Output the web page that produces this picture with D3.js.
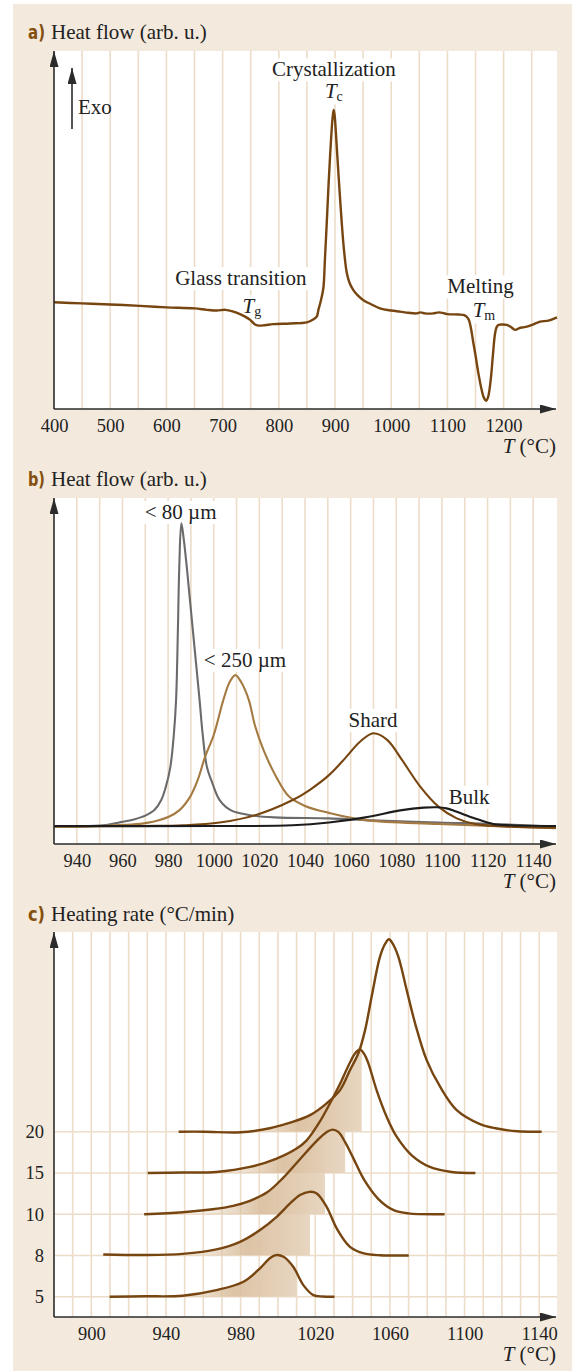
<!DOCTYPE html>
<html lang="en">
<head>
<meta charset="UTF-8">
<title>DSC curves</title>
<script src="https://d3js.org/d3.v7.min.js"></script>
<style>
  body { margin: 0; background: #fff; }
  svg { display: block; }
  .grid line { stroke: #ecdcc8; stroke-width: 1.6; }
</style>
</head>
<body>
<svg id="chart" width="572" height="1371"></svg>
<script>
// ---------- data ----------
// a) DSC trace of the glass: [T (°C), heat flow (arb. u.)]
const aTicks = [400, 500, 600, 700, 800, 900, 1000, 1100, 1200];
const aTrace = [
  [400, 29.8], [450, 29.5], [500, 29.2], [553, 28.8], [600, 28.4], [650, 28.1],
  [672, 27.7], [690, 27.5], [705, 27.7], [719, 27.2], [731, 26.5], [740, 25.8],
  [749, 24.9], [757, 23.7], [764, 23.3], [775, 23.4], [790, 23.7], [820, 23.9],
  [850, 24.2], [862, 25.1], [867.5, 25.8], [870.5, 27.7], [875, 30.4], [879.3, 33.8],
  [882, 41.6], [885.3, 52.0], [888.5, 62.6], [891.2, 70.5], [894, 77.9], [896, 81.8],
  [897.7, 83.5], [899.5, 81.8], [901.5, 77.4], [904.2, 70.5], [908, 61.2], [912, 52.0],
  [916, 44.4], [921, 38.0], [926, 35.2], [932.7, 33.2], [940, 31.8], [950.5, 30.4],
  [965, 29.2], [980, 28.1], [1000, 27.5], [1015.8, 27.2], [1030, 26.9], [1045, 26.7],
  [1052, 27.0], [1060, 26.7], [1075, 26.7], [1085, 27.0], [1100, 26.5], [1120, 26.4],
  [1130, 26.2], [1137.3, 25.2], [1142, 22.4], [1146, 18.6], [1150, 15.0],
  [1155, 10.1], [1161, 5.3], [1165, 3.1], [1168.8, 2.3], [1172.5, 3.4], [1177, 8.1],
  [1181, 15.1], [1184.8, 21.1], [1188, 23.0], [1191, 23.5], [1198, 23.6], [1205.6, 23.5],
  [1213, 22.9], [1220.5, 22.1], [1228, 22.6], [1234, 22.8], [1241.3, 23.0], [1252, 23.6],
  [1265, 24.4], [1280, 24.7], [1295, 25.6]
];

// b) crystallization peaks for different grain sizes: [T, heat flow]
const bTicks = [940, 960, 980, 1000, 1020, 1040, 1060, 1080, 1100, 1120, 1140];
const bFine = [
  [930, 5.1], [950, 5.3], [960, 6.4], [965, 7.1], [970, 8.2], [974, 9.8], [977, 12.7],
  [979, 16.5], [981, 22.3], [982.5, 31.5], [983.5, 41.6], [984.3, 62], [984.9, 80],
  [985.8, 92.7], [986.7, 89], [988.2, 80], [990.7, 62.8], [993.8, 41.6], [995.1, 32.1],
  [997, 22.3], [999.4, 17.6], [1002.6, 12.7], [1007.4, 9.8], [1015.4, 8.4], [1026.6, 7.7],
  [1050.5, 7.4], [1066.5, 6.9], [1098.5, 6.2], [1122.5, 5.8], [1150, 5.0]
];
const bMedium = [
  [930, 5.1], [950, 5.2], [970.7, 6.1], [980.3, 7.9], [985, 9.8], [989.7, 13.7], [993, 18.5],
  [996.2, 25.2], [1000, 31.5], [1004.2, 41.6], [1007, 46.8], [1009.5, 48.8], [1012, 46.8],
  [1015.4, 41.6], [1018, 34.4], [1021.8, 27.2], [1027, 19.9], [1033, 13.7], [1040, 11.0],
  [1050.5, 9.0], [1066.5, 6.9], [1098.5, 5.8], [1150, 4.6]
];
const bShard = [
  [930, 5.1], [970, 5.2], [986.6, 5.4], [1002.6, 6.2], [1018.6, 8.4], [1034.6, 12.7],
  [1042, 15.6], [1050.5, 19.9], [1058, 25.1], [1064, 29.5], [1070, 32.0], [1076, 30.1],
  [1082.5, 24.3], [1090.5, 16.6], [1098.5, 10.8], [1106.5, 7.4], [1114.5, 5.8],
  [1130.4, 5.0], [1150, 4.7]
];
const bBulk = [
  [930, 5.2], [1000, 5.2], [1034.6, 5.4], [1050.5, 6.2], [1066.5, 7.7], [1082.5, 9.8],
  [1092, 10.5], [1097.7, 10.6], [1102, 10.3], [1106.5, 9.3], [1114.5, 7.4], [1122.5, 5.8],
  [1130.4, 5.4], [1150, 5.2]
];

// c) peaks at different heating rates: [T, signal above baseline]
const cTicks = [900, 940, 980, 1020, 1060, 1100, 1140];
const cRates = ["5", "8", "10", "15", "20"];
const cCut = { "5": 1010, "8": 1017.2, "10": 1025.2, "15": 1036, "20": 1044.9 };
const cCurves = {
  "5": [[909.8, 0], [929, 0.2], [949, 0.5], [967, 3.3], [981.5, 7.5], [990.4, 14.2], [996, 19.5],
        [999, 20.8], [1003, 20], [1008.2, 15], [1013.6, 5.8], [1019, 0.8], [1024, 0.1], [1030.3, 0]],
  "8": [[906.4, 0.5], [930, 0.2], [949, 0.8], [967, 3], [979.7, 6.8], [990.4, 12.7], [999.3, 19.3],
        [1006.5, 26], [1011.8, 30.2], [1016.8, 31.8], [1020.8, 31], [1026.1, 24.3], [1031.5, 13.5],
        [1038.6, 4.3], [1046, 1], [1055, 0.1], [1070.1, 0]],
  "10": [[928.3, 0], [949, 1], [965, 2.5], [976, 4.2], [985, 6.7], [994, 10.8], [1002.9, 18.3],
         [1011.8, 27.5], [1020.8, 36.7], [1026, 41], [1029.2, 42.3], [1032.5, 41], [1036, 36],
         [1040.5, 27.8], [1046.3, 17], [1054.1, 7.3], [1062, 2], [1069.8, 0.4], [1089.3, 0]],
  "15": [[930.2, 0], [949, 0.2], [967, 0.5], [985, 3], [999.3, 7.2], [1010, 12.2], [1015.4, 16.3],
         [1022, 25], [1028, 35], [1034, 46], [1039, 56], [1041.5, 60], [1044, 61.7], [1046.5, 59],
         [1048.5, 54.7], [1052.9, 41.3], [1058.3, 28], [1063.7, 18], [1071.7, 8.8], [1081.4, 3],
         [1093.1, 0.5], [1105.8, 0]],
  "20": [[946.8, 0], [960.5, 0], [980, -0.3], [995.6, 1.7], [1006.5, 4.5], [1017.2, 8.3],
         [1026.1, 14.2], [1033.3, 20.8], [1038.6, 30.8], [1043.1, 39.2], [1046.7, 50.8],
         [1050.2, 67.5], [1054.7, 87.5], [1057.5, 94], [1059.5, 96.2], [1061.5, 94], [1064.5, 87.5],
         [1069, 70.8], [1073.5, 54.2], [1079.7, 35.8], [1086.9, 22.5], [1095.8, 10.8], [1108.3, 3.8],
         [1116.6, 1.7], [1128.3, 0.2], [1141.3, 0]]
};

// ---------- drawing ----------
const serif = '"Liberation Serif", "Times New Roman", serif';
const brown = "#774510";
const svg = d3.select("#chart");
const defs = svg.append("defs");

defs.append("marker")
  .attr("id", "arrow")
  .attr("markerUnits", "userSpaceOnUse")
  .attr("markerWidth", 16).attr("markerHeight", 9)
  .attr("refX", 16).attr("refY", 4.5)
  .attr("orient", "auto")
  .append("path").attr("d", "M0,0L16,4.5L0,9Z").attr("fill", "#2b2b2b");

svg.append("rect")
  .attr("x", 13).attr("y", 4).attr("width", 559).attr("height", 1367)
  .attr("fill", "#f3e9dc");

// white plot area + vertical grid
function plotArea(x, top, bottom, gridT) {
  svg.append("rect")
    .attr("x", 54).attr("y", top).attr("width", 557 - 54).attr("height", bottom - top)
    .attr("fill", "#fff");
  svg.append("g").attr("class", "grid")
    .selectAll("line").data(gridT).join("line")
    .attr("x1", d => x(d)).attr("x2", d => x(d))
    .attr("y1", top).attr("y2", bottom);
}

// arrowed axes, x tick labels, T label
function axes(x, top, bottom, ticks) {
  svg.append("line")
    .attr("x1", 54).attr("y1", bottom).attr("x2", 54).attr("y2", top)
    .attr("stroke", "#2b2b2b").attr("stroke-width", 1.6)
    .attr("marker-end", "url(#arrow)");
  svg.append("line")
    .attr("x1", 54).attr("y1", bottom).attr("x2", 556).attr("y2", bottom)
    .attr("stroke", "#2b2b2b").attr("stroke-width", 1.6)
    .attr("marker-end", "url(#arrow)");

  const g = svg.append("g")
    .attr("transform", `translate(0,${bottom})`)
    .call(d3.axisBottom(x).tickValues(ticks).tickFormat(d3.format("d")).tickSize(0).tickPadding(10));
  g.select(".domain").remove();
  g.attr("font-family", serif).attr("font-size", 18.5);
  g.selectAll("text").attr("fill", "#222");

  const t = svg.append("text")
    .attr("x", 556).attr("y", bottom + 44)
    .attr("text-anchor", "end")
    .attr("font-family", serif).attr("font-size", 21).attr("fill", "#222");
  t.append("tspan").attr("font-style", "italic").text("T");
  t.append("tspan").text(" (°C)");
}

function title(y, tag, text) {
  svg.append("text")
    .attr("x", 28).attr("y", y)
    .attr("font-family", '"Liberation Sans Narrow", "DejaVu Sans Condensed", sans-serif')
    .attr("font-weight", "bold").attr("font-size", 20).attr("fill", "#84500f")
    .attr("textLength", 17).attr("lengthAdjust", "spacingAndGlyphs")
    .text(tag);
  svg.append("text")
    .attr("x", 51).attr("y", y)
    .attr("font-family", serif).attr("font-size", 21).attr("fill", "#222")
    .text(text);
}

function note(x, y, parts) {
  const t = svg.append("text")
    .attr("x", x).attr("y", y).attr("text-anchor", "middle")
    .attr("font-family", serif).attr("font-size", 21).attr("fill", "#222");
  parts.forEach(p => {
    const s = t.append("tspan").text(p.t);
    if (p.i) s.attr("font-style", "italic");
    if (p.sub) s.attr("font-size", 14).attr("dy", 3);
  });
  const b = t.node().getBBox();
  svg.insert("rect", () => t.node())
    .attr("x", b.x - 3).attr("y", b.y + 1).attr("width", b.width + 6).attr("height", b.height - 1)
    .attr("fill", "#fff");
}

// ----- panel a -----
const xa = d3.scaleLinear().domain([400, 1295]).range([54, 557]);
const ya = d3.scaleLinear().domain([0, 100]).range([409, 51]);
plotArea(xa, 51, 409, d3.range(450, 1300, 50));
title(39, "a)", "Heat flow (arb. u.)");

note(xa(898), ya(92.9), [{ t: "Crystallization" }]);
note(xa(898), ya(86.8), [{ t: "T", i: true }, { t: "c", sub: true }]);
note(xa(732.4), ya(34.6), [{ t: "Glass transition" }]);
note(xa(752), ya(26.7), [{ t: "T", i: true }, { t: "g", sub: true }]);
note(xa(1159), ya(32.3), [{ t: "Melting" }]);
note(xa(1165), ya(25.6), [{ t: "T", i: true }, { t: "m", sub: true }]);

svg.append("path")
  .datum(aTrace)
  .attr("fill", "none").attr("stroke", brown).attr("stroke-width", 2.4)
  .attr("stroke-linejoin", "round")
  .attr("d", d3.line().x(d => xa(d[0])).y(d => ya(d[1])).curve(d3.curveCatmullRom.alpha(0.5)));

axes(xa, 51, 409, aTicks);
// exo arrow
svg.append("line")
  .attr("x1", 72).attr("y1", 129).attr("x2", 72).attr("y2", 68)
  .attr("stroke", "#2b2b2b").attr("stroke-width", 1.6)
  .attr("marker-end", "url(#arrow)");
svg.append("text")
  .attr("x", 78).attr("y", 114)
  .attr("font-family", serif).attr("font-size", 21).attr("fill", "#222")
  .text("Exo");

// ----- panel b -----
const xb = d3.scaleLinear().domain([930, 1150]).range([54, 556]);
const yb = d3.scaleLinear().domain([0, 100]).range([844, 498]);
plotArea(xb, 498, 844, d3.range(940, 1141, 10));
title(486, "b)", "Heat flow (arb. u.)");

note(xb(985.5), yb(93.9), [{ t: "< 80 µm" }]);
note(xb(1013.7), yb(51.2), [{ t: "< 250 µm" }]);
note(xb(1069.8), yb(33.9), [{ t: "Shard" }]);
note(xb(1111.9), yb(11.6), [{ t: "Bulk" }]);

const lineB = d3.line().x(d => xb(d[0])).y(d => yb(d[1])).curve(d3.curveCatmullRom.alpha(0.5));
const bSeries = [
  { data: bFine, color: "#6b6b6b" },
  { data: bMedium, color: "#a57a42" },
  { data: bShard, color: brown },
  { data: bBulk, color: "#1c1c1c" }
];
svg.append("g").selectAll("path").data(bSeries).join("path")
  .attr("fill", "none")
  .attr("stroke", d => d.color).attr("stroke-width", 2.1)
  .attr("d", d => lineB(d.data));

axes(xb, 498, 844, bTicks);

// ----- panel c -----
const xc = d3.scaleLinear().domain([880, 1149]).range([54, 556]);
const yc = d3.scalePoint().domain(cRates).range([1296.7, 1131.7]);
const amp = d3.scaleLinear().domain([0, 100]).range([0, 200]);
plotArea(xc, 932, 1317, d3.range(890, 1141, 10));
svg.append("g").attr("class", "grid")
  .selectAll("line").data(cRates).join("line")
  .attr("x1", 54).attr("x2", 557)
  .attr("y1", d => yc(d)).attr("y2", d => yc(d));
title(921, "c)", "Heating rate (°C/min)");

// shaded part of every peak, up to its cut-off temperature
cRates.forEach(r => {
  const base = yc(r);
  const data = cCurves[r];
  const grad = defs.append("linearGradient")
    .attr("id", "shade" + r)
    .attr("gradientUnits", "userSpaceOnUse")
    .attr("x1", xc(cCut[r] - 75)).attr("x2", xc(cCut[r]))
    .attr("y1", 0).attr("y2", 0);
  grad.append("stop").attr("offset", 0).attr("stop-color", "#dbc09f").attr("stop-opacity", 0);
  grad.append("stop").attr("offset", 0.55).attr("stop-color", "#d9bd9c").attr("stop-opacity", 0.9);
  grad.append("stop").attr("offset", 1).attr("stop-color", "#e8d6c1").attr("stop-opacity", 1);

  defs.append("clipPath").attr("id", "clip" + r)
    .append("rect")
    .attr("x", xc(data[0][0])).attr("y", 932)
    .attr("width", xc(cCut[r]) - xc(data[0][0]))
    .attr("height", base - 932);

  svg.append("path")
    .datum(data)
    .attr("fill", `url(#shade${r})`)
    .attr("clip-path", `url(#clip${r})`)
    .attr("d", d3.area()
      .x(d => xc(d[0])).y0(base).y1(d => base - amp(Math.max(0, d[1])))
      .curve(d3.curveCatmullRom.alpha(0.5)));
});

cRates.forEach(r => {
  const base = yc(r);
  svg.append("path")
    .datum(cCurves[r])
    .attr("fill", "none").attr("stroke", brown).attr("stroke-width", 2.4)
    .attr("d", d3.line().x(d => xc(d[0])).y(d => base - amp(d[1])).curve(d3.curveCatmullRom.alpha(0.5)));
});

axes(xc, 932, 1317, cTicks);
const gy = svg.append("g")
  .attr("transform", "translate(54,0)")
  .call(d3.axisLeft(yc).tickSize(0).tickPadding(10));
gy.select(".domain").remove();
gy.attr("font-family", serif).attr("font-size", 18.5);
gy.selectAll("text").attr("fill", "#222");
</script>
</body>
</html>
